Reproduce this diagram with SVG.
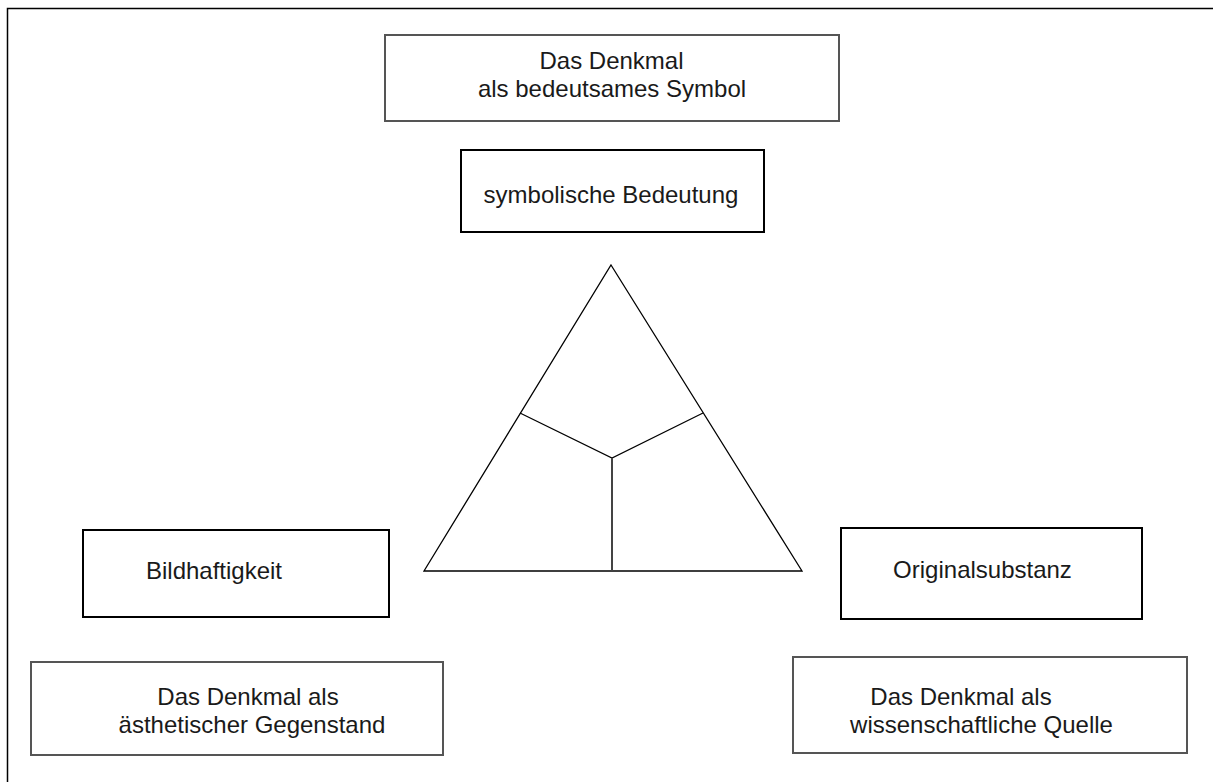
<svg xmlns="http://www.w3.org/2000/svg" width="1213" height="782" viewBox="0 0 1213 782">
<style>
text{font-family:"Liberation Sans",Arial,Helvetica,sans-serif;font-size:24px;fill:#1a1a1a;text-anchor:middle}
.bk{fill:#fff;stroke:#000;stroke-width:2}
.gr{fill:#fff;stroke:#555;stroke-width:2}
.ln{fill:none;stroke:#000;stroke-width:1.3}
</style>
<rect width="1213" height="782" fill="#fff"/>
<g id="frame"><path d="M7.5 782V8.5H1213" fill="none" stroke="#000" stroke-width="1.5"/></g>
<g id="top">
<rect class="gr" x="385" y="35" width="454" height="86"/>
<text x="611.5" y="69">Das Denkmal</text>
<text x="612" y="97">als bedeutsames Symbol</text>
</g>
<g id="symbolisch">
<rect class="bk" x="461" y="150" width="303" height="82"/>
<text x="611" y="203">symbolische Bedeutung</text>
</g>
<g id="bildhaft">
<rect class="bk" x="83" y="530" width="306" height="87"/>
<text x="214" y="579">Bildhaftigkeit</text>
</g>
<g id="original">
<rect class="bk" x="841" y="528" width="301" height="91"/>
<text x="982.5" y="578">Originalsubstanz</text>
</g>
<g id="aesthetisch">
<rect class="gr" x="31" y="662" width="412" height="93"/>
<text x="248" y="705">Das Denkmal als</text>
<text x="252" y="733">ästhetischer Gegenstand</text>
</g>
<g id="wissenschaft">
<rect class="gr" x="793" y="657" width="394" height="96"/>
<text x="961" y="705">Das Denkmal als</text>
<text x="981.5" y="733">wissenschaftliche Quelle</text>
</g>
<g id="connectors">
<path class="ln" d="M611 265L802 571H424Z"/>
<path class="ln" d="M520 413L612 458L703 413"/>
<path d="M612 458V571" fill="none" stroke="#444" stroke-width="2"/>
</g>
</svg>
